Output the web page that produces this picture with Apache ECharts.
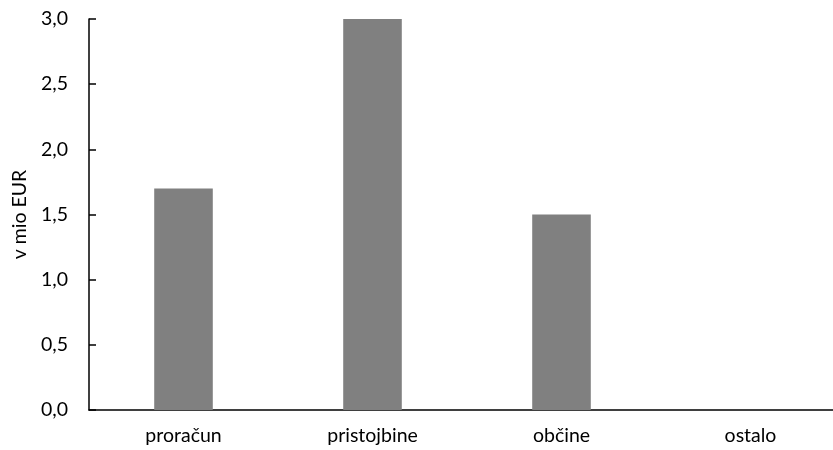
<!DOCTYPE html>
<html>
<head>
<meta charset="utf-8">
<script src="https://cdn.jsdelivr.net/npm/echarts@6/dist/echarts.min.js"></script>
<style>
  html, body { margin: 0; padding: 0; background: #fff; }
  #chart { width: 833px; height: 450px; }
</style>
</head>
<body>
<div id="chart"></div>
<script>
const categories = ['proračun', 'pristojbine', 'občine', 'ostalo']
const values = [1.7, 3.0, 1.5, 0]
const yTitle = 'v mio EUR'

const font = 'Lato, "Open Sans", sans-serif'
const chart = echarts.init(document.getElementById('chart'))
chart.setOption({
  animation: false,
  grid: {
    top: 19,
    left: 89,
    width: 756,
    bottom: 40,
    outerBoundsMode: 'none'
  },
  xAxis: {
    type: 'category',
    data: categories,
    axisLine: { lineStyle: { color: '#000', width: 1.5 } },
    axisTick: { show: false },
    axisLabel: { color: '#000', fontSize: 19.5, fontFamily: font, margin: 16 }
  },
  yAxis: {
    type: 'value',
    min: 0,
    max: 3,
    interval: 0.5,
    name: yTitle,
    nameLocation: 'middle',
    nameGap: 58,
    nameTextStyle: { color: '#000', fontSize: 19.5, fontFamily: font },
    axisLine: { show: true, lineStyle: { color: '#000', width: 1.5 } },
    axisTick: { show: true, inside: true, length: 7, lineStyle: { color: '#000', width: 1.5 } },
    splitLine: { show: false },
    axisLabel: {
      color: '#000',
      fontSize: 19.5,
      fontFamily: font,
      margin: 21,
      formatter: v => v.toFixed(1).replace('.', ',')
    }
  },
  series: [{
    type: 'bar',
    data: values,
    barWidth: '31%',
    itemStyle: { color: '#808080' }
  }]
})
</script>
</body>
</html>
